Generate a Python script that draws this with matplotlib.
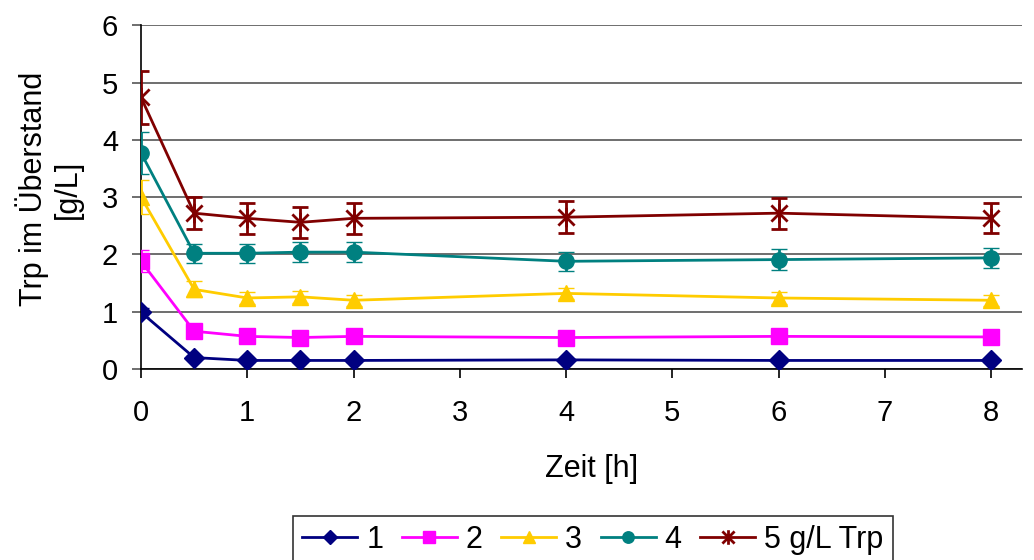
import matplotlib

matplotlib.use("Agg")
import matplotlib.pyplot as plt
from matplotlib.lines import Line2D
from matplotlib.path import Path

plt.rcParams["font.family"] = ["Liberation Sans", "DejaVu Sans"]

zeit = [0, 0.5, 1, 1.5, 2, 4, 6, 8]

trp_1 = [0.99, 0.20, 0.15, 0.15, 0.15, 0.16, 0.15, 0.15]
trp_2 = [1.88, 0.66, 0.57, 0.55, 0.57, 0.55, 0.57, 0.56]
trp_3 = [3.00, 1.39, 1.24, 1.26, 1.20, 1.32, 1.24, 1.20]
trp_4 = [3.77, 2.02, 2.02, 2.04, 2.04, 1.88, 1.91, 1.94]
trp_5 = [4.74, 2.72, 2.63, 2.56, 2.63, 2.65, 2.72, 2.63]

err_1 = [0.08, 0.03, 0.02, 0.02, 0.02, 0.02, 0.02, 0.02]
err_2 = [0.19, 0.06, 0.05, 0.05, 0.05, 0.05, 0.05, 0.05]
err_3 = [0.30, 0.14, 0.10, 0.10, 0.10, 0.10, 0.10, 0.10]
err_4 = [0.37, 0.17, 0.17, 0.17, 0.17, 0.17, 0.18, 0.18]
err_5 = [0.46, 0.28, 0.27, 0.27, 0.27, 0.28, 0.27, 0.26]

labels = ["1", "2", "3", "4", "5 g/L Trp"]
colors = ["#000080", "#FF00FF", "#FFCC00", "#008080", "#800000"]

# Excel-style star: an X with a vertical stroke
star = Path([(-0.5, -0.5), (0.5, 0.5), (-0.5, 0.5), (0.5, -0.5), (0, -0.6), (0, 0.6)],
            [Path.MOVETO, Path.LINETO, Path.MOVETO, Path.LINETO, Path.MOVETO, Path.LINETO])
markers = ["D", "s", "^", "o", star]
sizes = [10, 11.5, 12, 11, 14]

fig = plt.figure(figsize=(10.34, 5.6), dpi=100)
ax = fig.add_axes([0.1364, 0.341, 0.852, 0.614])

series = [trp_1, trp_2, trp_3, trp_4, trp_5]
errors = [err_1, err_2, err_3, err_4, err_5]
handles = []
for vals, errs, lab, col, mk, ms in zip(series, errors, labels, colors, markers, sizes):
    ax.errorbar(zeit, vals, yerr=errs, color=col, marker=mk, markersize=ms,
                markeredgecolor=col, markeredgewidth=2 if mk is star else 1,
                linewidth=2, elinewidth=2, capsize=6, capthick=2, zorder=3)
    handles.append(Line2D([], [], color=col, marker=mk, markersize=ms * 0.75,
                          markeredgecolor=col, markeredgewidth=2 if mk is star else 1,
                          linewidth=2, label=lab))

ax.set_xlim(0, 8.29)
ax.set_ylim(0, 6)
ax.set_xticks(range(0, 9))
ax.set_yticks(range(0, 7))
ax.grid(axis="y", color="#555555", linewidth=1.2)
ax.set_axisbelow(True)
for side in ["top", "right"]:
    ax.spines[side].set_visible(False)
for side in ["left", "bottom"]:
    ax.spines[side].set_color("black")
    ax.spines[side].set_linewidth(1.2)
ax.tick_params(axis="both", labelsize=21, length=6.5, width=1.2, direction="out")
ax.tick_params(axis="x", pad=15)
ax.tick_params(axis="y", pad=10, color="#555555")

ax.set_xlabel("Zeit [h]", fontsize=22)
ax.xaxis.set_label_coords(0.511, -0.248)
ax.set_ylabel("Trp im Überstand\n[g/L]", fontsize=22, linespacing=1.15)
ax.yaxis.set_label_coords(-0.066, 0.523)

leg = fig.legend(handles=handles, loc="upper left", bbox_to_anchor=(293 / 1034, 1 - 516 / 560),
                 ncol=5, fontsize=22, frameon=True, fancybox=False, edgecolor="black",
                 handlelength=1.8, handletextpad=0.3, columnspacing=0.6, borderpad=0.3,
                 borderaxespad=0)
leg.get_frame().set_linewidth(1.2)

fig.savefig("out.png", dpi=100)
